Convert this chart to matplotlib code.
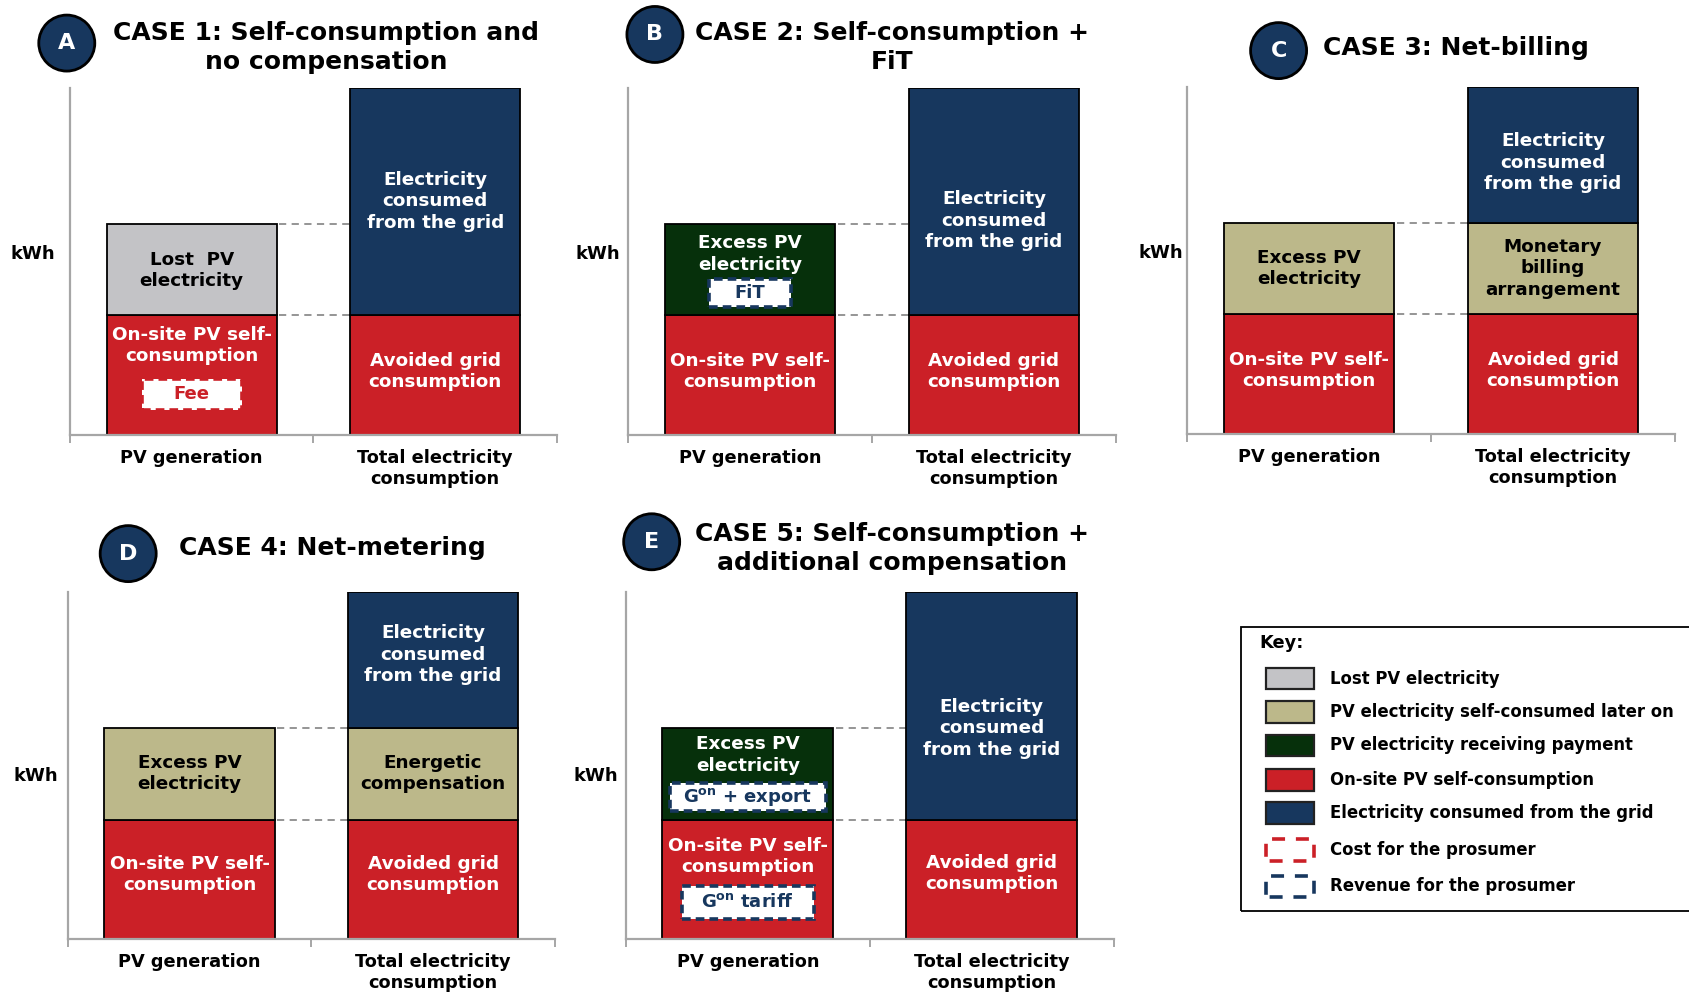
import matplotlib
matplotlib.use("Agg")
import matplotlib.pyplot as plt
from matplotlib.patches import Rectangle, Ellipse

plt.rcParams['font.family'] = ['DejaVu Sans']
plt.rcParams['font.weight'] = 'bold'
plt.rcParams['mathtext.fontset'] = 'dejavusans'
plt.rcParams['mathtext.default'] = 'bf'

# shares of the daily balance (total consumption = 100)
self_consumed = 34.5
excess_pv = 26.5
consumption = 100.0
grid_rest = consumption - self_consumed
grid_after_credit = consumption - self_consumed - excess_pv

letters = ["A", "B", "C", "D", "E"]
titles = [
    "CASE 1: Self-consumption and\nno compensation",
    "CASE 2: Self-consumption +\nFiT",
    "CASE 3: Net-billing",
    "CASE 4: Net-metering",
    "CASE 5: Self-consumption +\nadditional compensation",
]
categories = ["PV generation", "Total electricity\nconsumption"]

onsite = "On-site PV self-\nconsumption"
avoided = "Avoided grid\nconsumption"
from_grid = "Electricity\nconsumed\nfrom the grid"
excess = "Excess PV\nelectricity"

# stacked segments (value, kind, label), bottom to top
pv_stacks = [
    [(self_consumed, "self", onsite), (excess_pv, "lost", "Lost  PV\nelectricity")],
    [(self_consumed, "self", onsite), (excess_pv, "paid", excess)],
    [(self_consumed, "self", onsite), (excess_pv, "later", excess)],
    [(self_consumed, "self", onsite), (excess_pv, "later", excess)],
    [(self_consumed, "self", onsite), (excess_pv, "paid", excess)],
]
cons_stacks = [
    [(self_consumed, "self", avoided), (grid_rest, "grid", from_grid)],
    [(self_consumed, "self", avoided), (grid_rest, "grid", from_grid)],
    [(self_consumed, "self", avoided), (excess_pv, "later", "Monetary\nbilling\narrangement"),
     (grid_after_credit, "grid", from_grid)],
    [(self_consumed, "self", avoided), (excess_pv, "later", "Energetic\ncompensation"),
     (grid_after_credit, "grid", from_grid)],
    [(self_consumed, "self", avoided), (grid_rest, "grid", from_grid)],
]

# payment badges: (segment kind it sits in, text, cost/revenue)
badges = [
    [("self", "Fee", "cost")],
    [("paid", "FiT", "revenue")],
    [],
    [],
    [("paid", "G$^{on}$ + export", "revenue"), ("self", "G$^{on}$ tariff", "revenue")],
]

key_kinds = ["lost", "later", "paid", "self", "grid", "cost", "revenue"]
key_labels = [
    "Lost PV electricity",
    "PV electricity self-consumed later on",
    "PV electricity receiving payment",
    "On-site PV self-consumption",
    "Electricity consumed from the grid",
    "Cost for the prosumer",
    "Revenue for the prosumer",
]

fills = {"self": "#cb2027", "grid": "#17375e", "lost": "#c3c3c6",
         "later": "#bcb88a", "paid": "#06300b"}
ink = {"self": "white", "grid": "white", "lost": "black",
       "later": "black", "paid": "white"}
badge_ink = {"cost": "#cb2027", "revenue": "#17375e"}

# ---- layout (pixel grid 1568 x 921) ----
GW, GH = 1568, 921
def fx(x):
    return x / GW
def fy(y):
    return 1 - y / GH

axes_px = [(65, 82, 452, 322), (583, 82, 453, 322), (1102, 81, 453, 322),
           (63, 550, 452, 322), (581, 550, 453, 322)]
circle_px = [(62, 40), (608, 32), (1187, 47), (119, 514), (605, 503)]
title_px = [(303, 44, "center"), (828, 44, "center"), (1228, 45, "left"),
            (166, 509, "left"), (828, 509, "center")]
kwh_px = [(30, 236), (555, 236), (1078, 235), (33, 720), (553, 720)]

# label heights in data units, one list per bar
pv_label_y = [[25.8, 47.5], [18.3, 52.2], [18.3, 47.8], [18.6, 47.8], [23.9, 53.1]]
cons_label_y = [[18.3, 67.4], [18.3, 61.8], [18.3, 47.8, 78.3],
                [18.6, 47.8, 82.0], [19.0, 60.9]]
badge_geom = [[(11.8, 0.41, 9.0)], [(41.0, 0.34, 8.0)], [], [],
              [(41.0, 0.64, 8.0), (10.6, 0.54, 9.3)]]

bar_w = 0.7
fig = plt.figure(figsize=(16.89, 9.92), dpi=100)

for i in range(5):
    x0, y0, w, h = axes_px[i]
    ax = fig.add_axes([fx(x0), fy(y0 + h), w / GW, h / GH])
    ax.set_xlim(-0.5, 1.5)
    ax.set_ylim(0, consumption)
    for s in ["top", "right"]:
        ax.spines[s].set_visible(False)
    for s in ["left", "bottom"]:
        ax.spines[s].set_color("#a6a6a6")
        ax.spines[s].set_linewidth(1.6)
    ax.set_yticks([])
    ax.set_xticks([0, 1])
    ax.set_xticklabels(categories, fontsize=12.8, fontweight="bold")
    ax.set_xticks([-0.5, 0.5, 1.5], minor=True)
    ax.tick_params(axis="x", which="major", length=0, pad=10)
    ax.tick_params(axis="x", which="minor", length=6, width=1.4,
                   color="#a6a6a6", direction="out")

    for xpos, stack, label_ys in [(0, pv_stacks[i], pv_label_y[i]),
                                  (1, cons_stacks[i], cons_label_y[i])]:
        bottom = 0
        for (val, kind, label), ly in zip(stack, label_ys):
            ax.bar(xpos, val, bottom=bottom, width=bar_w, color=fills[kind],
                   edgecolor="black", linewidth=1.3, zorder=2)
            ax.text(xpos, ly, label, ha="center", va="center", color=ink[kind],
                    fontsize=13.2, fontweight="bold", linespacing=1.25, zorder=4)
            bottom += val

    # guide lines between the two bars
    pv_top = sum(v for v, _, _ in pv_stacks[i])
    for yv in [self_consumed, pv_top]:
        ax.plot([bar_w / 2 + 0.01, 1 - bar_w / 2], [yv, yv], color="#8c8c8c",
                linestyle=(0, (4, 3)), linewidth=1.3, zorder=1)

    for (kind, text, role), (by, bw, bh) in zip(badges[i], badge_geom[i]):
        ax.add_patch(Rectangle((-bw / 2, by - bh / 2), bw, bh, facecolor="white",
                               edgecolor=badge_ink[role], linewidth=2.6,
                               linestyle=(0, (2.4, 1.4)), zorder=3))
        ax.text(0, by, text, ha="center", va="center", color=badge_ink[role],
                fontsize=13, fontweight="bold", zorder=4)

    # case badge and title
    cx, cy = circle_px[i]
    r = 26
    fig.add_artist(Ellipse((fx(cx), fy(cy)), 2 * r / GW, 2 * r / GH,
                           transform=fig.transFigure, facecolor="#17375e",
                           edgecolor="black", linewidth=2))
    fig.text(fx(cx), fy(cy), letters[i], ha="center", va="center",
             color="white", fontsize=16, fontweight="bold")
    tx, ty, align = title_px[i]
    fig.text(fx(tx), fy(ty), titles[i], ha=align, va="center",
             multialignment="center", fontsize=18, fontweight="bold",
             linespacing=1.25)
    kx, ky = kwh_px[i]
    fig.text(fx(kx), fy(ky), "kWh", ha="center", va="center",
             fontsize=13, fontweight="bold")

# key box
fig.add_artist(Rectangle((fx(1152), fy(846)), 1.0, fy(582) - fy(846),
                         transform=fig.transFigure, facecolor="none",
                         edgecolor="black", linewidth=1.3))
fig.text(fx(1169), fy(597), "Key:", ha="left", va="center",
         fontsize=12.8, fontweight="bold")
key_rows = [630, 661, 692, 724, 755, 789, 823]
for kind, label, ry in zip(key_kinds, key_labels, key_rows):
    sx, sw, sh = 1175, 45, 20
    if kind in fills:
        fig.add_artist(Rectangle((fx(sx), fy(ry + sh / 2)), sw / GW, sh / GH,
                                 transform=fig.transFigure, facecolor=fills[kind],
                                 edgecolor="#222222", linewidth=1.6))
    else:
        fig.add_artist(Rectangle((fx(sx), fy(ry + sh / 2)), sw / GW, sh / GH,
                                 transform=fig.transFigure, facecolor="none",
                                 edgecolor=badge_ink[kind], linewidth=2.6,
                                 linestyle=(-1.0, (3.6, 3.0))))
    fig.text(fx(1235), fy(ry), label, ha="left", va="center",
             fontsize=11.9, fontweight="bold")

fig.savefig("out.png", dpi=100)
